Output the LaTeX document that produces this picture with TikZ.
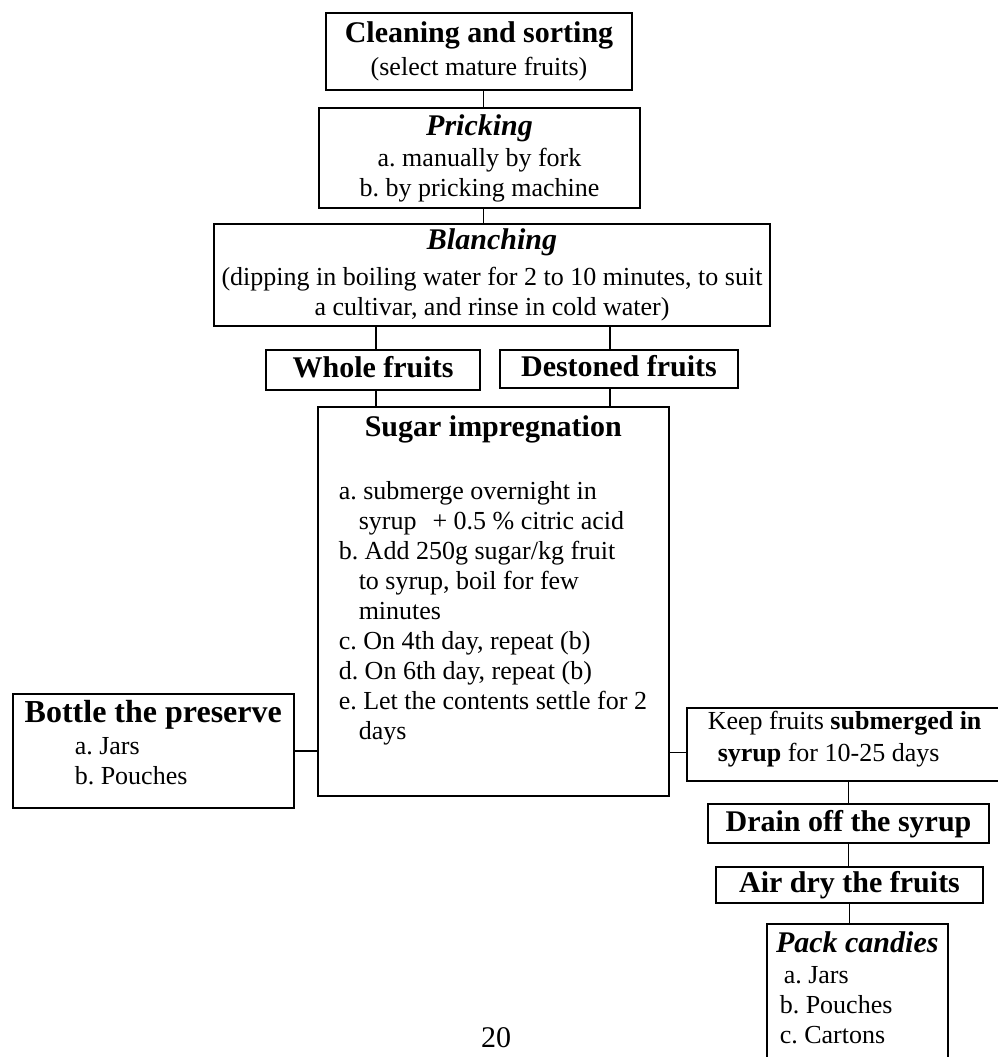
\documentclass[tikz,border=0pt]{standalone}
\usepackage{fontspec}
\setmainfont{Liberation Serif}
\frenchspacing

\newcommand{\headfont}{\fontsize{30}{34}\selectfont\bfseries}
\newcommand{\bodyfont}{\fontsize{26}{30}\selectfont}
\newcommand{\panel}[3]{\begin{minipage}[t][#2][t]{#1}\raggedright\bodyfont #3\end{minipage}}

\tikzset{
  box/.style={draw, line width=1.5pt, inner sep=0pt},
  stage/.style={box, align=center, font=\bodyfont},
  headbox/.style={box, font=\headfont, text height=21pt, text depth=6pt},
  link/.style={line width=1.5pt},
}

\begin{document}
\begin{tikzpicture}[x=1pt,y=-1pt]

      \useasboundingbox (0,0) rectangle (998,1057);

      % main column
      \node[stage, minimum width=306pt, minimum height=77pt] (clean) at (479,51.5)
        {{\headfont Cleaning and sorting}\\[3pt](select mature fruits)};
      \node[stage, minimum width=321pt, minimum height=100pt] (prick) at (479.5,158)
        {{\headfont\itshape Pricking}\\[1pt]a. manually by fork\\b. by pricking machine};
      \node[stage, minimum width=556pt, minimum height=102pt] (blanch) at (492,275)
        {{\headfont\itshape Blanching}\\[6pt](dipping in boiling water for 2 to 10 minutes, to suit\\a cultivar, and rinse in cold water)};

      \node[headbox, minimum width=214pt, minimum height=40pt] (whole) at (373,370) {Whole fruits};
      \node[headbox, minimum width=238pt, minimum height=38pt] (dest) at (619,369) {Destoned fruits};

      \node[box, anchor=north west] (sugar) at (317,406) {\panel{351pt}{389pt}{%
        {\centering\headfont\rule{0pt}{30pt}Sugar impregnation\par}
        \vspace{33pt}
        \leftskip=21pt
        a. submerge overnight in\\
        \hspace*{20pt}syrup\hspace{16pt}+ 0.5 \% citric acid\\
        b. Add 250g sugar/kg fruit\\
        \hspace*{20pt}to syrup, boil for few\\
        \hspace*{20pt}minutes\\
        c. On 4th day, repeat (b)\\
        d. On 6th day, repeat (b)\\
        e. Let the contents settle for 2\\
        \hspace*{20pt}days\par}};

      % left branch
      \node[box, anchor=north west] (bottle) at (12,693) {\panel{281pt}{114pt}{%
        {\centering\fontsize{32}{36}\selectfont\bfseries\rule{0pt}{29pt}Bottle the preserve\par}
        \vspace{2pt}
        \leftskip=62pt
        a. Jars\\
        b. Pouches\par}};

      % right branch
      \node[box, anchor=north west] (keep) at (686,707) {\panel{324pt}{73pt}{%
        \leftskip=21pt
        \rule{0pt}{22pt}Keep fruits \textbf{submerged in}\\[2pt]
        \hspace*{10pt}\textbf{syrup} for 10-25 days\par}};
      \node[headbox, minimum width=281pt, minimum height=39pt] (drain) at (848.5,823.5) {Drain off the syrup};
      \node[headbox, minimum width=267pt, minimum height=36pt] (air) at (849.5,885) {Air dry the fruits};
      \node[box, anchor=north west] (pack) at (766,923) {\panel{181pt}{160pt}{%
        {\centering\headfont\itshape\rule{0pt}{29pt}Pack candies\par}
        \vspace{1pt}
        \leftskip=13pt
        \hspace*{4pt}a. Jars\\
        b. Pouches\\
        c. Cartons\par}};

      \node[anchor=base, inner sep=0pt, font=\fontsize{30}{34}\selectfont] (page) at (496,1047) {20};

      % connectors
      \draw[link] ([xshift=4pt]prick.north) -- ([xshift=4pt]prick.north |- clean.south);
      \draw[link] ([xshift=4pt]prick.south) -- ([xshift=4pt]prick.south |- blanch.north);
      \draw[link] ([xshift=3pt]whole.north) -- ([xshift=3pt]whole.north |- blanch.south);
      \draw[link] ([xshift=-9pt]dest.north) -- ([xshift=-9pt]dest.north |- blanch.south);
      \draw[link] ([xshift=3pt]whole.south) -- ([xshift=3pt]whole.south |- sugar.north);
      \draw[link] ([xshift=-9pt]dest.south) -- ([xshift=-9pt]dest.south |- sugar.north);
      \draw[link] (bottle.east) -- (bottle.east -| sugar.west);
      \draw[link] ([yshift=-8pt]keep.west) -- ([yshift=-8pt]keep.west -| sugar.east);
      \draw[link] (drain.north) -- (drain.north |- keep.south);
      \draw[link] (drain.south) -- (drain.south |- air.north);
      \draw[link] (air.south) -- (air.south |- pack.north);

    \end{tikzpicture}
\end{document}
